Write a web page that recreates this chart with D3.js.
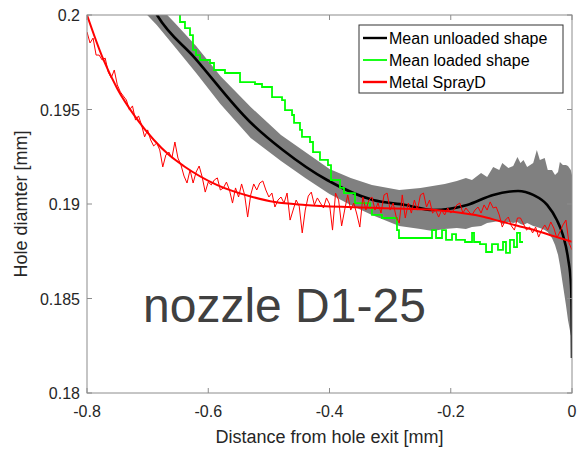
<!DOCTYPE html>
<html>
<head>
<meta charset="utf-8">
<script src="https://d3js.org/d3.v7.min.js"></script>
<style>
  body { margin: 0; background: #fff; }
  text { font-family: "Liberation Sans", Arial, sans-serif; }
</style>
</head>
<body>
<div id="chart"></div>
<script>
// axis ticks
var xTicks = [-0.8, -0.6, -0.4, -0.2, 0];
var yTicks = [0.18, 0.185, 0.19, 0.195, 0.2];

// mean unloaded shape (black) and its spread (gray band)
var meanX = [-0.70, -0.6845, -0.622, -0.531, -0.477, -0.404, -0.328, -0.275, -0.229, -0.173, -0.130, -0.089, -0.064, -0.041, -0.025, -0.015, -0.0066, -0.0016, -0.0004, 0];
var meanY = [0.2009, 0.2000, 0.19772, 0.19434, 0.19286, 0.19127, 0.19021, 0.18995, 0.18968, 0.18995, 0.19048, 0.19069, 0.19048, 0.18995, 0.18915, 0.18836, 0.18714, 0.18571, 0.18386, 0.18185];

var bandX = [-0.715, -0.685, -0.655, -0.62, -0.58, -0.53, -0.48, -0.44, -0.40, -0.365, -0.33, -0.285, -0.25, -0.23, -0.21, -0.19, -0.175, -0.165, -0.15, -0.14, -0.13, -0.12, -0.115, -0.105, -0.097, -0.09, -0.085, -0.08, -0.074, -0.064, -0.058, -0.053, -0.045, -0.04, -0.033, -0.028, -0.023, -0.02, -0.015, -0.01, -0.0066, -0.002, 0];
var bandUp = [0.20164, 0.20058, 0.19958, 0.19836, 0.19677, 0.19513, 0.19365, 0.19275, 0.19185, 0.19138, 0.19101, 0.19074, 0.19085, 0.19095, 0.19106, 0.19122, 0.19138, 0.19127, 0.19164, 0.19143, 0.19196, 0.19180, 0.19217, 0.19190, 0.19201, 0.19249, 0.19217, 0.19233, 0.19196, 0.19217, 0.19286, 0.19233, 0.19243, 0.19180, 0.19180, 0.19153, 0.19169, 0.19222, 0.19206, 0.19206, 0.19201, 0.19180, 0.19153];
var bandLo = [0.20048, 0.19947, 0.19831, 0.19693, 0.19529, 0.19349, 0.19228, 0.19138, 0.19053, 0.18995, 0.18942, 0.18884, 0.18868, 0.18857, 0.18868, 0.18873, 0.18868, 0.18878, 0.18884, 0.18899, 0.18905, 0.18910, 0.18894, 0.18905, 0.18899, 0.18905, 0.18894, 0.18889, 0.18899, 0.18884, 0.18878, 0.18873, 0.18862, 0.18852, 0.18820, 0.18783, 0.18730, 0.18677, 0.18571, 0.18466, 0.18386, 0.18307, 0.18280];

// mean loaded shape (green, stepped)
var loadedX = [-0.6548, -0.6466, -0.6384, -0.6301, -0.6252, -0.6202, -0.6136, -0.5971, -0.5905, -0.5724, -0.5476, -0.5229, -0.5113, -0.4948, -0.4783, -0.4734, -0.4618, -0.4585, -0.4487, -0.4454, -0.4322, -0.4272, -0.4157, -0.4025, -0.3975, -0.3827, -0.3761, -0.3579, -0.3332, -0.3299, -0.3134, -0.2887, -0.2854, -0.2309, -0.2243, -0.2144, -0.2078, -0.1979, -0.1913, -0.1765, -0.1649, -0.1616, -0.1518, -0.1418, -0.1320, -0.1221, -0.1138, -0.1089, -0.1023, -0.0957, -0.0907, -0.0858, -0.0808];
var loadedY = [0.20026, 0.19963, 0.19931, 0.19894, 0.19815, 0.19788, 0.19762, 0.19746, 0.19709, 0.19693, 0.19645, 0.19635, 0.19619, 0.19566, 0.19550, 0.19497, 0.19471, 0.19429, 0.19392, 0.19355, 0.19328, 0.19275, 0.19233, 0.19206, 0.19127, 0.19085, 0.19058, 0.19005, 0.18979, 0.18942, 0.18926, 0.18862, 0.18820, 0.18862, 0.18820, 0.18862, 0.18810, 0.18841, 0.18810, 0.18799, 0.18847, 0.18799, 0.18788, 0.18746, 0.18788, 0.18757, 0.18799, 0.18741, 0.18810, 0.18772, 0.18847, 0.18799, 0.18799];

// Metal SprayD measurement, sampled every 0.005 mm from -0.8 to 0
var sprayStart = -0.8, sprayStep = 0.005;
var sprayY = [
  0.19910, 0.19852, 0.19878, 0.19788, 0.19788, 0.19762, 0.19772, 0.19698, 0.19667, 0.19709,
  0.19630, 0.19593, 0.19571, 0.19550, 0.19497, 0.19519, 0.19444, 0.19466, 0.19418, 0.19355,
  0.19392, 0.19339, 0.19307, 0.19323, 0.19286, 0.19196, 0.19259, 0.19275, 0.19243, 0.19328,
  0.19243, 0.19206, 0.19148, 0.19111, 0.19180, 0.19111, 0.19169, 0.19201, 0.19143, 0.19063,
  0.19116, 0.19101, 0.19127, 0.19138, 0.19074, 0.19085, 0.19116, 0.19074, 0.19005, 0.19085,
  0.19037, 0.19106, 0.19048, 0.18931, 0.19048, 0.19106, 0.19074, 0.19111, 0.19122, 0.19074,
  0.19037, 0.19058, 0.18984, 0.19021, 0.19037, 0.19005, 0.19058, 0.18915, 0.18968, 0.19021,
  0.18989, 0.18847, 0.18968, 0.19042, 0.19063, 0.18995, 0.19032, 0.19005, 0.18979, 0.19032,
  0.19000, 0.18862, 0.19058, 0.19021, 0.18884, 0.18968, 0.19048, 0.18968, 0.19005, 0.18947,
  0.18878, 0.19037, 0.18968, 0.19021, 0.19037, 0.18968, 0.19005, 0.18952, 0.19048, 0.19058,
  0.18968, 0.19005, 0.18931, 0.18899, 0.19048, 0.18926, 0.19005, 0.18952, 0.19021, 0.18968,
  0.19048, 0.19058, 0.18984, 0.19021, 0.18952, 0.18968, 0.18931, 0.18968, 0.18942, 0.18979,
  0.18952, 0.18968, 0.18995, 0.19005, 0.18952, 0.18979, 0.18958, 0.18942, 0.18968, 0.18984,
  0.18952, 0.18995, 0.18968, 0.19011, 0.18979, 0.18984, 0.18942, 0.18878, 0.18915, 0.18931,
  0.18884, 0.18862, 0.18926, 0.18926, 0.18894, 0.18862, 0.18878, 0.18847, 0.18878, 0.18825,
  0.18862, 0.18889, 0.18862, 0.18905, 0.18873, 0.18820, 0.18852, 0.18889, 0.18915, 0.18794,
  0.18757
];

// smooth fit through the Metal SprayD data
var fitX = [-0.8, -0.775, -0.75, -0.72, -0.69, -0.665, -0.64, -0.585, -0.53, -0.49, -0.44, -0.38, -0.33, -0.275, -0.23, -0.2, -0.15, -0.12, -0.09, -0.06, -0.03, 0];
var fitY = [0.2000, 0.1978, 0.1961, 0.1946, 0.1934, 0.1926, 0.1920, 0.1910, 0.1904, 0.1901, 0.18995, 0.18985, 0.1898, 0.18975, 0.1897, 0.1896, 0.18935, 0.1891, 0.18885, 0.1886, 0.1883, 0.1880];

var legendNames = ["Mean unloaded shape", "Mean loaded shape", "Metal SprayD"];
var legendColors = ["#000000", "#00ff00", "#ff0000"];

var margin = { top: 15, right: 8, bottom: 57, left: 87 },
    W = 580, H = 450,
    w = W - margin.left - margin.right,
    h = H - margin.top - margin.bottom;

var svg = d3.select("#chart").append("svg")
    .attr("width", W)
    .attr("height", H);

var x = d3.scaleLinear().domain([-0.8, 0]).range([0, w]);
var y = d3.scaleLinear().domain([0.18, 0.2]).range([h, 0]);

var g = svg.append("g")
    .attr("transform", "translate(" + margin.left + "," + margin.top + ")");

svg.append("defs").append("clipPath").attr("id", "plotclip")
  .append("rect").attr("width", w).attr("height", h);

var plot = g.append("g").attr("clip-path", "url(#plotclip)");

// gray band
var band = bandX.map(function (d, i) { return [d, bandUp[i], bandLo[i]]; });
plot.append("path")
    .datum(band)
    .attr("fill", "#808080")
    .attr("d", d3.area()
        .x(function (d) { return x(d[0]); })
        .y0(function (d) { return y(d[2]); })
        .y1(function (d) { return y(d[1]); }));

// black mean line
var meanPts = meanX.map(function (d, i) { return [d, meanY[i]]; });
plot.append("path")
    .datum(meanPts)
    .attr("fill", "none")
    .attr("stroke", "#000")
    .attr("stroke-width", 2.6)
    .attr("d", d3.line().curve(d3.curveMonotoneX)
        .x(function (d) { return x(d[0]); })
        .y(function (d) { return y(d[1]); }));

// green stepped line
var loadedPts = loadedX.map(function (d, i) { return [d, loadedY[i]]; });
plot.append("path")
    .datum(loadedPts)
    .attr("fill", "none")
    .attr("stroke", "#00ff00")
    .attr("stroke-width", 1.8)
    .attr("d", d3.line().curve(d3.curveStepAfter)
        .x(function (d) { return x(d[0]); })
        .y(function (d) { return y(d[1]); }));

// red noisy measurement
var sprayPts = sprayY.map(function (v, i) { return [sprayStart + i * sprayStep, v]; });
plot.append("path")
    .datum(sprayPts)
    .attr("fill", "none")
    .attr("stroke", "#ff0000")
    .attr("stroke-width", 1)
    .attr("d", d3.line()
        .x(function (d) { return x(d[0]); })
        .y(function (d) { return y(d[1]); }));

// red fit
var fitPts = fitX.map(function (d, i) { return [d, fitY[i]]; });
plot.append("path")
    .datum(fitPts)
    .attr("fill", "none")
    .attr("stroke", "#ff0000")
    .attr("stroke-width", 2)
    .attr("d", d3.line().curve(d3.curveMonotoneX)
        .x(function (d) { return x(d[0]); })
        .y(function (d) { return y(d[1]); }));

// axes box (MATLAB style, ticks inside on all sides)
var axisColor = "#8c8c8c", labelColor = "#262626", tickLen = 5;
g.append("rect")
    .attr("width", w).attr("height", h)
    .attr("fill", "none")
    .attr("stroke", axisColor)
    .attr("stroke-width", 1);

var ticksG = g.append("g").attr("stroke", axisColor).attr("stroke-width", 1);
xTicks.forEach(function (t) {
    ticksG.append("line").attr("x1", x(t)).attr("x2", x(t)).attr("y1", h).attr("y2", h - tickLen);
    ticksG.append("line").attr("x1", x(t)).attr("x2", x(t)).attr("y1", 0).attr("y2", tickLen);
});
yTicks.forEach(function (t) {
    ticksG.append("line").attr("x1", 0).attr("x2", tickLen).attr("y1", y(t)).attr("y2", y(t));
    ticksG.append("line").attr("x1", w).attr("x2", w - tickLen).attr("y1", y(t)).attr("y2", y(t));
});

g.selectAll("text.xtick").data(xTicks).enter().append("text")
    .attr("class", "xtick")
    .attr("x", function (d) { return x(d); })
    .attr("y", h + 24)
    .attr("text-anchor", "middle")
    .attr("fill", labelColor)
    .style("font-size", "16px")
    .text(function (d) { return String(d); });

g.selectAll("text.ytick").data(yTicks).enter().append("text")
    .attr("class", "ytick")
    .attr("x", -7)
    .attr("y", function (d) { return y(d) + 6; })
    .attr("text-anchor", "end")
    .attr("fill", labelColor)
    .style("font-size", "16px")
    .text(function (d) { return String(d); });

// axis labels
g.append("text")
    .attr("x", w / 2)
    .attr("y", h + 50)
    .attr("text-anchor", "middle")
    .attr("fill", labelColor)
    .style("font-size", "18px")
    .text("Distance from hole exit [mm]");

svg.append("text")
    .attr("transform", "translate(27," + (margin.top + h / 2) + ") rotate(-90)")
    .attr("text-anchor", "middle")
    .attr("fill", labelColor)
    .style("font-size", "18px")
    .text("Hole diamter [mm]");

// annotation
g.append("text")
    .attr("x", 56)
    .attr("y", 307)
    .attr("fill", "#404040")
    .style("font-size", "48px")
    .text("nozzle D1-25");

// legend
var lg = svg.append("g").attr("transform", "translate(359,25)");
lg.append("rect")
    .attr("width", 204).attr("height", 68)
    .attr("fill", "#fff")
    .attr("stroke", "#333")
    .attr("stroke-width", 1);
legendNames.forEach(function (name, i) {
    var cy = 13 + i * 22;
    lg.append("line")
        .attr("x1", 4).attr("x2", 28)
        .attr("y1", cy).attr("y2", cy)
        .attr("stroke", legendColors[i])
        .attr("stroke-width", i === 1 ? 1.8 : 2.4);
    lg.append("text")
        .attr("x", 30).attr("y", cy + 6)
        .attr("fill", "#000")
        .style("font-size", "16px")
        .text(name);
});
</script>
</body>
</html>
